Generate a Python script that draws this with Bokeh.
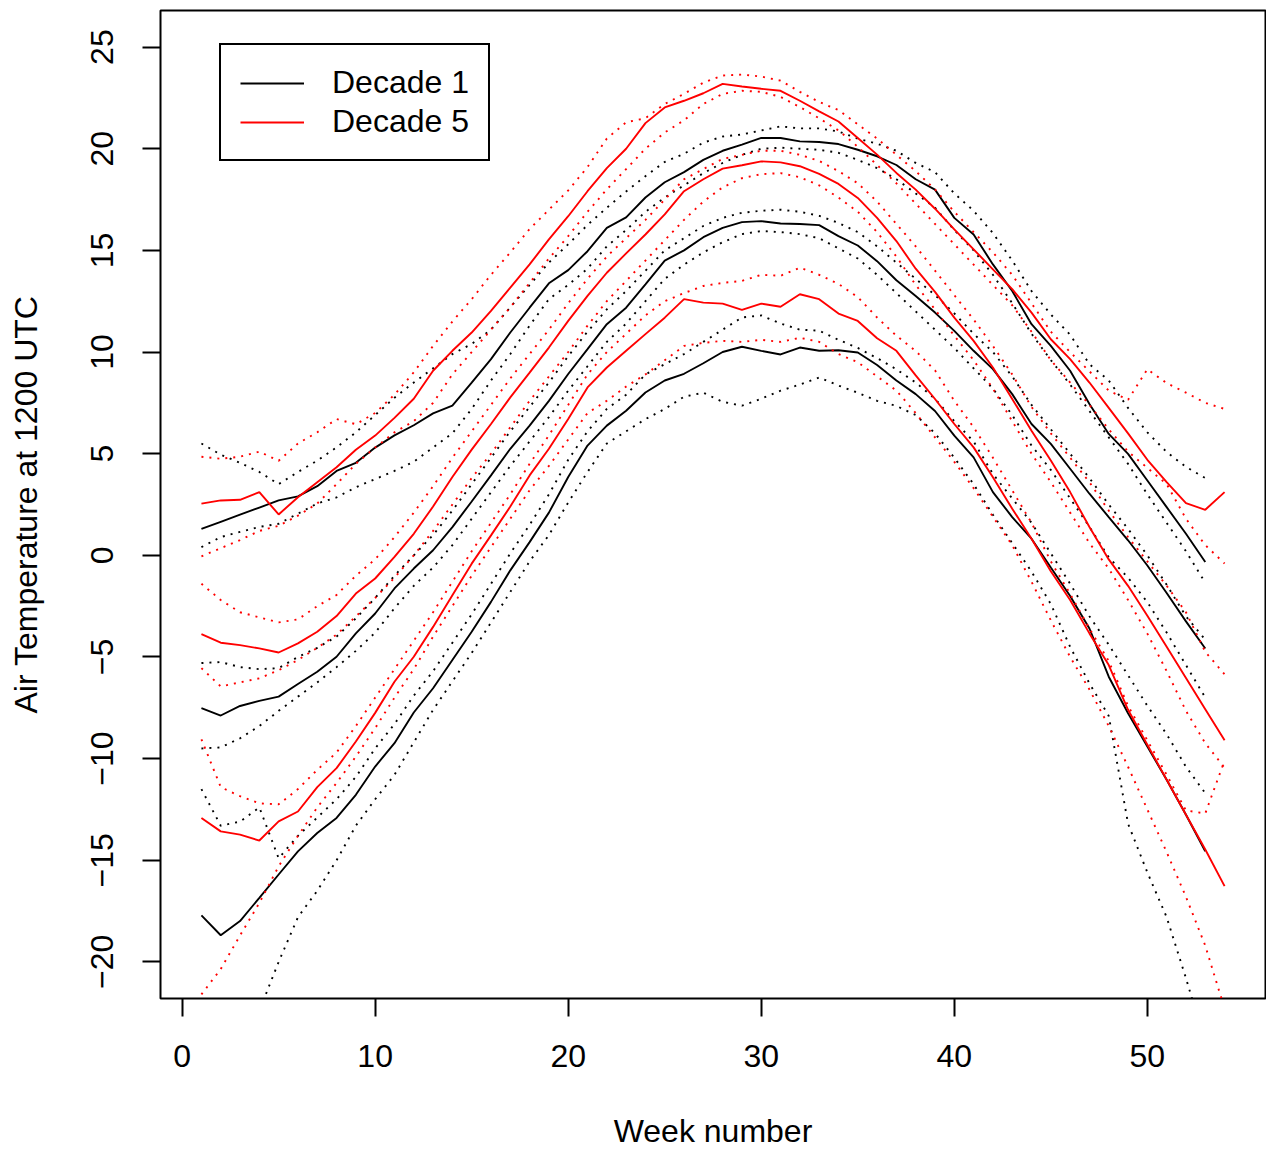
from bokeh.plotting import figure
from bokeh.models import Range1d, FixedTicker, Legend, LegendItem
from bokeh.embed import file_html
from bokeh.resources import INLINE

# ---------------- data ----------------
weeks_d1 = list(range(1, 54))   # Decade 1 : weeks 1..53
weeks_d5 = list(range(1, 55))   # Decade 5 : weeks 1..54

x_ticks = [0, 10, 20, 30, 40, 50]
y_ticks = [-20, -15, -10, -5, 0, 5, 10, 15, 20, 25]

legend_labels = ["Decade 1", "Decade 5"]

# Decade 1 (black) solid lines
d1_hi = [1.3, 1.65, 2.0, 2.35, 2.7, 2.9, 3.4, 4.15, 4.55, 5.3, 5.9, 6.4, 6.98, 7.36, 8.5, 9.65, 10.96,
         12.18, 13.38, 14.03, 14.96, 16.11, 16.62, 17.6, 18.35, 18.85, 19.45, 19.9, 20.2, 20.53, 20.53,
         20.36, 20.33, 20.23, 19.95, 19.63, 19.2, 18.5, 17.99, 16.6, 15.78, 14.31, 13.0, 11.37, 10.3,
         9.08, 7.44, 5.97, 4.99, 3.68, 2.37, 1.06, -0.33]
d1_mid = [-7.52, -7.88, -7.41, -7.16, -6.95, -6.33, -5.73, -4.99, -3.84, -2.86, -1.63, -0.65, 0.25, 1.39,
          2.65, 3.93, 5.24, 6.38, 7.6, 8.92, 10.14, 11.37, 12.18, 13.33, 14.5, 15.0, 15.65, 16.11, 16.39,
          16.44, 16.32, 16.3, 16.24, 15.7, 15.24, 14.47, 13.53, 12.76, 11.94, 11.04, 10.06, 9.16, 7.93,
          6.46, 5.48, 4.26, 3.03, 1.88, 0.74, -0.5, -1.85, -3.25, -4.58]
d1_lo = [-17.71, -18.69, -17.99, -16.85, -15.7, -14.56, -13.66, -12.92, -11.78, -10.39, -9.24, -7.73,
         -6.54, -5.15, -3.76, -2.29, -0.74, 0.65, 2.1, 3.85, 5.4, 6.38, 7.11, 8.01, 8.6, 8.93, 9.45, 10.0,
         10.26, 10.06, 9.88, 10.22, 10.06, 10.09, 9.98, 9.36, 8.6, 7.93, 7.1, 5.89, 4.82, 3.11, 1.88, 0.82,
         -0.6, -2.0, -3.6, -5.97, -7.77, -9.41, -11.04, -12.76, -14.56]

# Decade 1 (black) dotted bands
d1_hi_up = [5.5, 4.95, 4.55, 4.1, 3.5, 4.1, 4.66, 5.31, 6.05, 6.9, 7.75, 8.5, 9.2, 9.9, 10.4, 11.1, 12.2,
            13.3, 14.4, 15.3, 16.25, 17.1, 17.9, 18.65, 19.35, 19.75, 20.3, 20.6, 20.7, 20.9, 21.1, 21.0,
            21.0, 20.85, 20.5, 20.25, 19.9, 19.3, 18.85, 17.8, 16.95, 15.85, 14.5, 13.0, 11.85, 10.85, 9.4,
            8.6, 7.25, 6.05, 5.08, 4.35, 3.8]
d1_hi_dn = [0.4, 0.9, 1.15, 1.4, 1.55, 2.05, 2.55, 2.85, 3.35, 3.75, 4.15, 4.6, 5.3, 6.0, 7.2, 8.6, 9.9,
            11.3, 12.6, 13.3, 14.1, 15.2, 16.0, 16.9, 17.6, 18.2, 18.8, 19.3, 19.7, 20.0, 20.05, 20.0,
            19.95, 19.8, 19.45, 19.05, 18.5, 17.8, 17.1, 16.0, 15.0, 13.8, 12.4, 10.9, 9.6, 8.4, 7.1, 5.8,
            4.5, 3.0, 1.6, 0.2, -1.35]
d1_mid_up = [-5.3, -5.25, -5.5, -5.6, -5.55, -5.0, -4.55, -4.0, -3.1, -2.1, -1.0, 0.0, 1.0, 2.2, 3.5, 4.8,
             6.1, 7.3, 8.5, 9.8, 11.0, 12.1, 13.0, 14.0, 15.0, 15.6, 16.2, 16.6, 16.85, 16.95, 17.0, 16.9,
             16.7, 16.35, 15.9, 15.2, 14.4, 13.6, 12.8, 11.9, 10.9, 10.0, 8.8, 7.4, 6.2, 5.0, 3.8, 2.5, 1.3,
             0.0, -1.45, -3.0, -4.15]
d1_mid_dn = [-9.5, -9.45, -9.0, -8.4, -7.65, -6.95, -6.25, -5.5, -4.7, -3.8, -2.6, -1.5, -0.6, 0.5, 1.8,
             3.1, 4.4, 5.6, 6.8, 8.1, 9.3, 10.5, 11.4, 12.5, 13.6, 14.3, 14.9, 15.4, 15.8, 15.95, 15.9,
             15.8, 15.6, 15.1, 14.6, 13.8, 12.9, 12.0, 11.1, 10.2, 9.2, 8.2, 6.9, 5.4, 4.2, 2.8, 1.4, -0.1,
             -1.1, -2.3, -3.8, -5.4, -7.0]
d1_lo_up = [-11.5, -13.3, -13.1, -12.4, -14.9, -13.8, -12.9, -12.0, -10.9, -9.5, -8.3, -6.9, -5.7, -4.3,
            -2.9, -1.4, 0.1, 1.5, 3.0, 4.7, 6.1, 7.2, 7.9, 8.9, 9.4, 9.9, 10.5, 11.1, 11.7, 11.8, 11.4,
            11.1, 11.05, 10.6, 10.2, 9.7, 9.15, 8.5, 7.7, 6.6, 5.6, 4.0, 2.8, 1.6, 0.1, -1.4, -3.0, -4.4,
            -5.9, -7.4, -8.8, -10.4, -11.7]
d1_lo_dn = [-26.0, -25.0, -24.0, -22.4, -20.0, -17.8, -16.5, -15.0, -13.3, -12.0, -10.8, -9.2, -7.6, -6.2,
            -4.8, -3.3, -1.8, -0.3, 1.0, 2.6, 4.1, 5.5, 6.1, 6.7, 7.2, 7.8, 8.0, 7.55, 7.36, 7.7, 8.1, 8.4,
            8.75, 8.35, 8.0, 7.6, 7.35, 6.9, 6.0, 4.8, 3.5, 2.0, 0.6, -0.8, -2.4, -4.5, -6.3, -7.9, -13.2,
            -15.6, -17.8, -20.8, -24.0]

# Decade 5 (red) solid lines
d5_hi = [2.54, 2.7, 2.73, 3.11, 2.01, 2.86, 3.6, 4.33, 5.19, 5.89, 6.76, 7.7, 9.08, 10.06, 10.96, 12.02,
         13.17, 14.31, 15.54, 16.68, 17.91, 19.05, 20.0, 21.26, 22.03, 22.36, 22.73, 23.19, 23.06, 22.95,
         22.85, 22.36, 21.84, 21.34, 20.53, 19.71, 18.81, 17.99, 17.05, 16.03, 15.05, 14.07, 13.09, 11.94,
         10.63, 9.65, 8.5, 7.25, 6.0, 4.7, 3.6, 2.57, 2.24, 3.11]
d5_mid = [-3.88, -4.3, -4.42, -4.58, -4.78, -4.33, -3.76, -2.99, -1.88, -1.14, -0.08, 1.06, 2.4, 3.85, 5.2,
          6.46, 7.77, 8.99, 10.22, 11.53, 12.76, 13.9, 14.85, 15.78, 16.77, 17.91, 18.5, 19.02, 19.19,
          19.38, 19.33, 19.14, 18.76, 18.27, 17.58, 16.6, 15.46, 14.1, 12.96, 11.69, 10.55, 9.24, 7.69,
          6.13, 4.66, 3.11, 1.39, -0.2, -1.5, -2.97, -4.5, -6.04, -7.57, -9.1]
d5_lo = [-12.92, -13.58, -13.74, -14.03, -13.09, -12.6, -11.4, -10.47, -9.16, -7.75, -6.22, -4.99, -3.52,
         -1.96, -0.41, 0.98, 2.4, 3.93, 5.24, 6.71, 8.26, 9.24, 10.06, 10.88, 11.69, 12.6, 12.43, 12.38,
         12.07, 12.38, 12.23, 12.84, 12.6, 11.89, 11.53, 10.68, 10.06, 8.85, 7.69, 6.46, 5.31, 3.84, 2.29,
         0.82, -0.78, -2.2, -3.84, -5.4, -7.6, -9.32, -11.04, -12.76, -14.47, -16.27]

# Decade 5 (red) dotted bands
d5_hi_up = [4.85, 4.75, 4.85, 5.1, 4.65, 5.5, 6.05, 6.7, 6.45, 7.0, 7.9, 9.0, 10.3, 11.5, 12.6, 13.8, 14.9,
            16.05, 17.0, 17.95, 19.1, 20.5, 21.3, 21.5, 22.2, 22.7, 23.25, 23.6, 23.65, 23.55, 23.35, 22.8,
            22.3, 21.9, 21.2, 20.5, 19.7, 18.9, 18.0, 16.9, 15.9, 14.9, 13.8, 12.4, 11.0, 10.0, 9.05, 8.1,
            7.65, 9.15, 8.47, 8.0, 7.5, 7.2]
d5_hi_dn = [-0.05, 0.35, 0.75, 1.2, 1.45, 1.95, 2.55, 3.5, 4.5, 5.3, 6.05, 6.6, 7.5, 8.9, 10.0, 11.1, 12.2,
            13.4, 14.6, 15.7, 16.9, 18.0, 19.0, 20.0, 20.8, 21.4, 22.2, 22.7, 22.85, 22.8, 22.55, 22.05,
            21.5, 20.9, 20.1, 19.2, 18.3, 17.3, 16.3, 15.3, 14.3, 13.3, 12.3, 11.0, 9.6, 8.5, 7.4, 6.2, 5.1,
            4.3, 3.5, 1.8, 0.5, -0.4]
d5_mid_up = [-1.4, -2.2, -2.8, -3.05, -3.3, -3.15, -2.5, -1.95, -1.0, -0.2, 0.9, 2.1, 3.4, 4.8, 6.1, 7.4,
             8.7, 9.9, 11.1, 12.4, 13.6, 14.7, 15.6, 16.5, 17.5, 18.5, 19.0, 19.5, 19.7, 19.9, 19.9, 19.7,
             19.4, 18.9, 18.3, 17.4, 16.3, 15.2, 14.0, 12.8, 11.6, 10.3, 8.9, 7.3, 6.0, 4.8, 3.6, 2.2, 0.9,
             -0.3, -1.5, -2.8, -4.75, -5.85]
d5_mid_dn = [-5.55, -6.45, -6.25, -6.05, -5.65, -5.15, -4.55, -3.9, -3.0, -2.1, -1.1, 0.0, 1.2, 2.5, 3.8,
             5.0, 6.3, 7.6, 8.8, 10.0, 11.3, 12.5, 13.5, 14.5, 15.5, 16.5, 17.4, 18.1, 18.55, 18.75, 18.8,
             18.6, 18.2, 17.6, 16.9, 15.9, 14.7, 13.3, 12.1, 10.8, 9.6, 8.2, 6.6, 5.0, 3.6, 2.1, 0.6, -0.65,
             -2.2, -3.85, -5.7, -7.65, -9.24, -10.45]
d5_lo_up = [-9.05, -11.4, -11.85, -12.2, -12.25, -11.5, -10.55, -9.7, -8.4, -7.0, -5.6, -4.2, -2.8, -1.3,
            0.2, 1.6, 3.0, 4.5, 5.9, 7.4, 8.9, 10.0, 10.9, 11.8, 12.5, 12.9, 13.25, 13.4, 13.5, 13.8, 13.75,
            14.15, 13.8, 13.35, 12.7, 11.7, 10.8, 10.05, 9.1, 7.6, 6.3, 4.8, 3.2, 1.6, -0.3, -1.9, -3.6,
            -5.2, -7.4, -9.1, -10.8, -12.55, -12.7, -10.1]
d5_lo_dn = [-21.6, -20.35, -18.7, -17.1, -15.3, -13.8, -12.4, -11.2, -9.9, -8.5, -7.0, -5.6, -4.0, -2.5,
            -1.0, 0.4, 1.8, 3.2, 4.4, 5.7, 7.0, 7.6, 8.3, 8.9, 9.6, 10.3, 10.45, 10.55, 10.5, 10.6, 10.5,
            10.7, 10.5, 9.9, 9.5, 8.8, 8.1, 7.0, 5.8, 4.6, 3.3, 1.9, 0.5, -1.3, -3.2, -5.0, -6.6, -8.4,
            -10.4, -12.5, -14.6, -16.8, -19.2, -22.3]

# ---------------- styling ----------------
FONT = "Liberation Sans"
FS = "32px"
LW = 1.9
DOT = "2 6"

p = figure(width=1266, height=1151, output_backend="svg", toolbar_location=None,
           x_range=Range1d(-1.12, 56.12), y_range=Range1d(-21.8, 26.8),
           min_border_left=160, min_border_right=1, min_border_top=10, min_border_bottom=153,
           background_fill_color="white", border_fill_color="white")
p.grid.visible = False
p.outline_line_color = "black"
p.outline_line_width = 2
p.outline_line_alpha = 1.0

for ax in (p.xaxis[0], p.yaxis[0]):
    ax.axis_line_color = None
    ax.major_tick_out = 18
    ax.major_tick_in = 0
    ax.major_tick_line_color = "black"
    ax.major_tick_line_width = 2
    ax.minor_tick_line_color = None
    ax.major_label_text_font = FONT
    ax.major_label_text_font_size = FS
    ax.major_label_text_color = "black"
    ax.axis_label_text_font = FONT
    ax.axis_label_text_font_size = FS
    ax.axis_label_text_font_style = "normal"
    ax.axis_label_text_color = "black"

p.xaxis.ticker = FixedTicker(ticks=x_ticks)
p.yaxis.ticker = FixedTicker(ticks=y_ticks)
p.xaxis.axis_label = "Week number"
p.yaxis.axis_label = "Air Temperature at 1200 UTC"
p.xaxis.major_label_standoff = 28
p.xaxis.axis_label_standoff = 43
p.yaxis.major_label_standoff = 29
p.yaxis.axis_label_standoff = 45
p.yaxis.major_label_orientation = "vertical"

# Decade 1 (black)
for band in (d1_hi_up, d1_hi_dn, d1_mid_up, d1_mid_dn, d1_lo_up, d1_lo_dn):
    p.line(weeks_d1, band, line_color="black", line_width=LW, line_dash=DOT)
r_d1 = None
for sol in (d1_hi, d1_mid, d1_lo):
    r = p.line(weeks_d1, sol, line_color="black", line_width=LW)
    if r_d1 is None:
        r_d1 = r

# Decade 5 (red)
for band in (d5_hi_up, d5_hi_dn, d5_mid_up, d5_mid_dn, d5_lo_up, d5_lo_dn):
    p.line(weeks_d5, band, line_color="red", line_width=LW, line_dash=DOT)
r_d5 = None
for sol in (d5_hi, d5_mid, d5_lo):
    r = p.line(weeks_d5, sol, line_color="red", line_width=LW)
    if r_d5 is None:
        r_d5 = r

legend = Legend(items=[LegendItem(label=legend_labels[0], renderers=[r_d1]),
                       LegendItem(label=legend_labels[1], renderers=[r_d5])],
                location=(59, 837), margin=0, padding=19, spacing=2,
                glyph_width=64, glyph_height=20, label_standoff=28, label_height=20,
                label_text_font=FONT, label_text_font_size=FS, label_text_color="black",
                border_line_color="black", border_line_width=2, border_line_alpha=1.0,
                background_fill_color="white", background_fill_alpha=1.0)
p.add_layout(legend, "center")

open("out.html", "w").write(file_html(p, INLINE))
